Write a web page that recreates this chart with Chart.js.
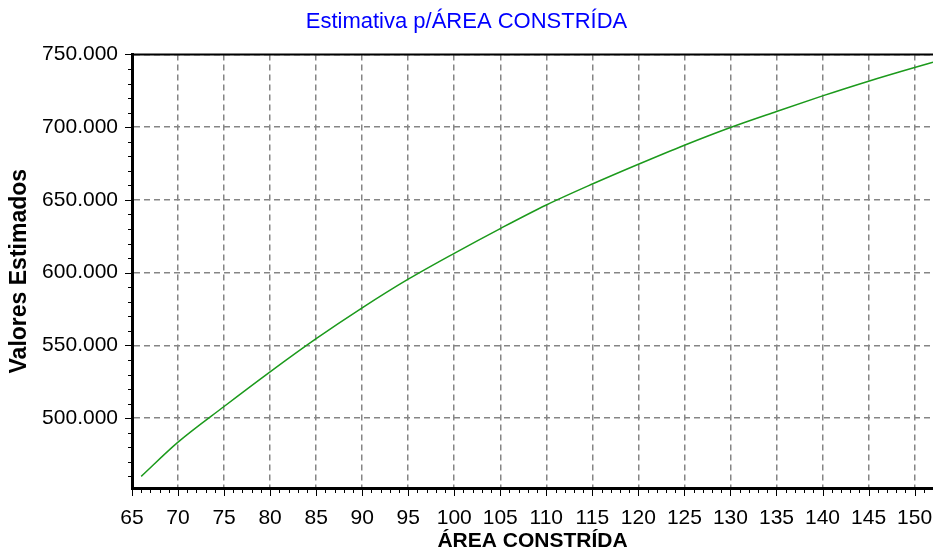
<!DOCTYPE html>
<html><head><meta charset="utf-8">
<script src="https://cdn.jsdelivr.net/npm/chart.js@4.4.1/dist/chart.umd.min.js"></script>
<style>html,body{margin:0;padding:0;background:#fff}#wrap{width:933px;height:554px;position:relative}</style>
</head><body><div id="wrap"><canvas id="c"></canvas></div>
<script>
// ---- data ----
const areaValues      = [66, 70, 75, 80, 85, 90, 95, 100, 105, 110, 115, 120, 125, 130, 135, 140, 145, 150, 152];
const estimatedValues = [460.0, 483.5, 508.0, 531.8, 554.6, 575.8, 595.5, 613.3, 630.3, 646.5, 660.9, 674.5, 687.6, 699.8, 710.8, 721.5, 731.6, 741.0, 744.6];
const xTickValues = [65, 70, 75, 80, 85, 90, 95, 100, 105, 110, 115, 120, 125, 130, 135, 140, 145, 150];
const yTickValues = [500, 550, 600, 650, 700, 750];
const chartTitle = 'Estimativa p/ÁREA CONSTRÍDA';
const xTitle = 'ÁREA CONSTRÍDA';
const yTitle = 'Valores Estimados';
const xRange = [65, 152];
const yRange = [452, 750];

const FONT = '"Liberation Sans", Arial, sans-serif';

const framePlugin = {
  id: 'frame',
  afterDraw(chart) {
    const {ctx, chartArea: a, scales: {x, y}} = chart;
    ctx.save();
    ctx.strokeStyle = '#000';
    ctx.lineWidth = 2;
    ctx.beginPath(); ctx.moveTo(a.left, a.top); ctx.lineTo(a.right, a.top); ctx.stroke();
    ctx.lineWidth = 1;
    for (let v = xRange[0]; v <= xRange[1]; v++) {
      const px = Math.round(x.getPixelForValue(v)) + 0.5;
      const len = v % 5 === 0 ? 7 : 4;
      ctx.beginPath(); ctx.moveTo(px, a.bottom + 1); ctx.lineTo(px, a.bottom + 1 + len); ctx.stroke();
    }
    for (let v = 460; v <= yRange[1]; v += 10) {
      const py = Math.round(y.getPixelForValue(v)) + 0.5;
      const len = v % 50 === 0 ? 6 : 3;
      ctx.beginPath(); ctx.moveTo(a.left - 1, py); ctx.lineTo(a.left - 1 - len, py); ctx.stroke();
    }
    ctx.restore();
  }
};

new Chart(document.getElementById('c'), {
  type: 'line',
  data: {
    datasets: [{
      data: areaValues.map((v, i) => ({x: v, y: estimatedValues[i]})),
      borderColor: '#1c9a1c',
      borderWidth: 1.5,
      pointRadius: 0,
      cubicInterpolationMode: 'monotone',
      fill: false
    }]
  },
  options: {
    responsive: true,
    maintainAspectRatio: false,
    animation: false,
    layout: {padding: {left: 0, right: 0, top: 0, bottom: 0}},
    plugins: {
      legend: {display: false},
      tooltip: {enabled: false},
      title: {
        display: true,
        text: chartTitle,
        color: '#0000ff',
        font: {family: FONT, size: 22, weight: 'normal'},
        padding: {top: 9, bottom: 19}
      }
    },
    scales: {
      x: {
        type: 'linear',
        min: xRange[0], max: xRange[1],
        afterBuildTicks: s => { s.ticks = xTickValues.map(v => ({value: v})); },
        afterFit: s => { s.height = 66; s.paddingRight = 0; s.paddingLeft = 0; },
        ticks: {
          autoSkip: false, maxRotation: 0,
          color: '#000', padding: 18,
          font: {family: FONT, size: 21}
        },
        grid: {color: '#858585', lineWidth: 1.5, drawTicks: false},
        border: {color: '#000', width: 3, dash: [6, 4]},
        title: {
          display: true, text: xTitle, color: '#000',
          font: {family: FONT, size: 21, weight: 'bold'},
          padding: {top: 0, bottom: 0}
        }
      },
      y: {
        type: 'linear',
        min: yRange[0], max: yRange[1],
        afterBuildTicks: s => { s.ticks = yTickValues.map(v => ({value: v})); },
        afterFit: s => { s.width = 132; s.paddingTop = 0; s.paddingBottom = 0; },
        ticks: {
          autoSkip: false,
          color: '#000', padding: 14,
          font: {family: FONT, size: 21},
          callback: v => v.toFixed(3)
        },
        grid: {color: '#858585', lineWidth: 1.5, drawTicks: false},
        border: {color: '#000', width: 3, dash: [6, 4]},
        title: {
          display: true, text: yTitle, color: '#000',
          font: {family: FONT, size: 23, weight: 'bold'},
          padding: {top: 6, bottom: 0}
        }
      }
    }
  },
  plugins: [framePlugin]
});
</script>
</body></html>
